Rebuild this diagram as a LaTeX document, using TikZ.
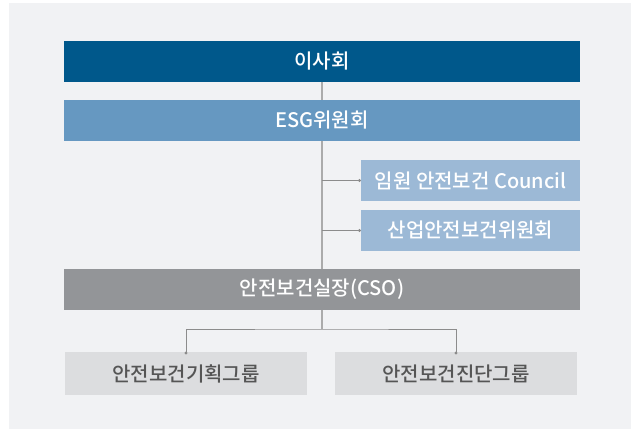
\documentclass[tikz,border=0pt]{standalone}
\usepackage{fontspec}
\setmainfont{Noto Sans CJK KR Medium}
\definecolor{pagebg}{HTML}{F1F2F4}
\definecolor{boardblue}{HTML}{00588B}
\definecolor{esgblue}{HTML}{6698C1}
\definecolor{subblue}{HTML}{9CB9D6}
\definecolor{csogray}{HTML}{939598}
\definecolor{groupgray}{HTML}{DCDDDF}
\definecolor{grouptext}{HTML}{555555}
\definecolor{trunkgray}{HTML}{ABABAB}
\definecolor{branchgray}{HTML}{8C8C8C}
\begin{document}
\begin{tikzpicture}[x=1pt, y=-1pt,
  orgbox/.style={rectangle, inner sep=0pt, outer sep=0pt, minimum height=41pt,
    text=white, font=\fontsize{20}{23}\selectfont},
  groupbox/.style={orgbox, minimum height=43pt, minimum width=242pt,
    fill=groupgray, text=grouptext},
  trunk/.style={trunkgray, line width=1.4pt},
  branch/.style={branchgray, line width=0.9pt}]
  \useasboundingbox (0,0) rectangle (631,429);
  \fill[pagebg] (9,3) rectangle (631,429);
  % main chain
  \node[orgbox, fill=boardblue, minimum width=516pt] (board) at (322,61.5) {이사회};
  \node[orgbox, fill=esgblue, minimum width=516pt] (esg) at (322,120.5) {ESG위원회};
  \node[orgbox, fill=subblue, minimum width=219pt] (council) at (470.5,180.5) {임원 안전보건 Council};
  \node[orgbox, fill=subblue, minimum width=219pt] (ohsc) at (470.5,230.5) {산업안전보건위원회};
  \node[orgbox, fill=csogray, minimum width=516pt] (cso) at (322,289.5) {안전보건실장(CSO)};
  \node[groupbox] (plan) at (186,373.5) {안전보건기획그룹};
  \node[groupbox] (audit) at (456,373.5) {안전보건진단그룹};
  \draw[trunk] (board.south) -- (esg.north);
  \draw[trunk] (esg.south) -- (cso.north);
  \foreach \sub in {council,ohsc} {
    \draw[branch] (esg.south |- \sub.west) -- (\sub.west);
    \fill[branchgray] (\sub.west) ++(-1.5,0) circle (1.6pt);
  }
  % groups below the CSO
  \draw[trunk] (cso.south) -- ++(0,19) coordinate (split);
  \draw[branch] (plan.north) |- (split) -| (audit.north);
  \foreach \grp in {plan,audit}
    \fill[branchgray] (\grp.north) ++(0,1) circle (1.6pt);
\end{tikzpicture}
\end{document}
